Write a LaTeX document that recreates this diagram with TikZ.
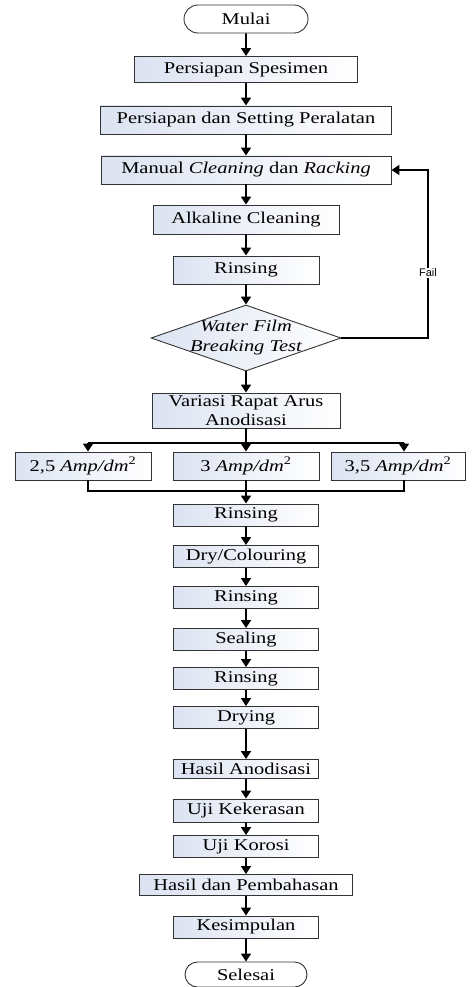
\documentclass[tikz,border=0pt]{standalone}
\usepackage{fontspec}
\setmainfont[FakeStretch=1.24]{Liberation Serif}
\newfontfamily\failfont{Liberation Sans}
\usetikzlibrary{arrows.meta,shapes.geometric,shapes.misc}
\definecolor{boxshade}{RGB}{220,227,241}

\begin{document}
\begin{tikzpicture}[x=1pt, y=-1pt,
  proc/.style={draw=black!80, line width=0.9pt, left color=boxshade, right color=white,
    inner sep=0pt, font=\fontsize{16.5}{19}\selectfont, align=center},
  colbox/.style={proc, minimum width=145pt, minimum height=22pt},
  term/.style={draw=black!80, line width=0.9pt, fill=white, rounded rectangle,
    inner sep=0pt, font=\fontsize{16.5}{19}\selectfont},
  flow/.style={line width=1.6pt, -{Triangle[length=8pt,width=10pt]}},
  link/.style={line width=1.6pt}]
\useasboundingbox (0,0) rectangle (473,987);
\node[term, minimum width=124pt, minimum height=28pt] (mulai) at (246,19) {Mulai};
\node[proc, minimum width=223pt, minimum height=26pt] (spesimen) at (246,69.5) {Persiapan Spesimen};
\node[proc, minimum width=291pt, minimum height=28pt] (setting) at (246,120) {Persiapan dan Setting Peralatan};
\node[proc, minimum width=290pt, minimum height=28pt] (manual) at (246,170) {Manual \textit{Cleaning} dan \textit{Racking}};
\node[proc, minimum width=186pt, minimum height=29pt] (alkaline) at (246,219.5) {Alkaline Cleaning};
\node[proc, minimum width=146pt, minimum height=28pt] (rinsing1) at (246,270) {Rinsing};
\node[proc, diamond, minimum width=190pt, minimum height=66pt] (test) at (246,338) {};
\node[font=\fontsize{16.5}{20}\selectfont\itshape, align=center] (testtext) at (test) {Water Film\\Breaking Test};
\node[proc, minimum width=188pt, minimum height=35pt] (variasi) at (246,410.5) {Variasi Rapat Arus\\Anodisasi};
\node[proc, minimum width=136pt, minimum height=28pt] (arus1) at (83,466) {2,5 \textit{Amp/dm}\textsuperscript{2}};
\node[proc, minimum width=146pt, minimum height=28pt] (arus2) at (246,466) {3 \textit{Amp/dm}\textsuperscript{2}};
\node[proc, minimum width=134pt, minimum height=28pt] (arus3) at (398,466) {3,5 \textit{Amp/dm}\textsuperscript{2}};
\node[colbox] (rinsing2) at (246,515) {Rinsing};
\node[colbox] (colouring) at (246,556.5) {Dry/Colouring};
\node[colbox] (rinsing3) at (246,597.5) {Rinsing};
\node[colbox] (sealing) at (246,639.5) {Sealing};
\node[colbox] (rinsing4) at (246,678.5) {Rinsing};
\node[colbox] (drying) at (246,717.5) {Drying};
\node[colbox, minimum height=19pt] (hasil) at (246,769) {Hasil Anodisasi};
\node[colbox, minimum height=23pt] (kekerasan) at (246,810.5) {Uji Kekerasan};
\node[colbox] (korosi) at (246,846.5) {Uji Korosi};
\node[proc, minimum width=213pt, minimum height=21pt] (pembahasan) at (246,885) {Hasil dan Pembahasan};
\node[colbox] (kesimpulan) at (246,927) {Kesimpulan};
\node[term, minimum width=122pt, minimum height=25pt] (selesai) at (246,974.5) {Selesai};
\coordinate (loop) at (428,170);
\coordinate (split) at (246,443);
\coordinate (splitL) at (88,443);
\coordinate (splitR) at (404,443);
\coordinate (join) at (246,491);
\coordinate (joinL) at (88,491);
\coordinate (joinR) at (404,491);
\draw[flow] (mulai) -- (spesimen);
\draw[flow] (spesimen) -- (setting);
\draw[flow] (setting) -- (manual);
\draw[flow] (manual) -- (alkaline);
\draw[flow] (alkaline) -- (rinsing1);
\draw[flow] (rinsing1) -- (test);
\draw[flow] (test.east) -| (loop) -- (manual.east);
\node[font=\failfont\fontsize{11}{13}\selectfont, fill=white, inner sep=1pt] (fail) at (428,273) {Fail};
\draw[flow] (test) -- (variasi);
\draw[link] (variasi) -- (split);
\draw[link] (splitL) -- (splitR);
\draw[flow] (splitL) -- (splitL |- arus1.north);
\draw[flow] (split) -- (arus2);
\draw[flow] (splitR) -- (splitR |- arus3.north);
\draw[link] (joinL |- arus1.south) -- (joinL) -- (joinR) -- (joinR |- arus3.south);
\draw[link] (arus2) -- (join);
\draw[flow] (join) -- (rinsing2);
\draw[flow] (rinsing2) -- (colouring);
\draw[flow] (colouring) -- (rinsing3);
\draw[flow] (rinsing3) -- (sealing);
\draw[flow] (sealing) -- (rinsing4);
\draw[flow] (rinsing4) -- (drying);
\draw[flow] (drying) -- (hasil);
\draw[flow] (hasil) -- (kekerasan);
\draw[flow] (kekerasan) -- (korosi);
\draw[flow] (korosi) -- (pembahasan);
\draw[flow] (pembahasan) -- (kesimpulan);
\draw[flow] (kesimpulan) -- (selesai);
\end{tikzpicture}
\end{document}
